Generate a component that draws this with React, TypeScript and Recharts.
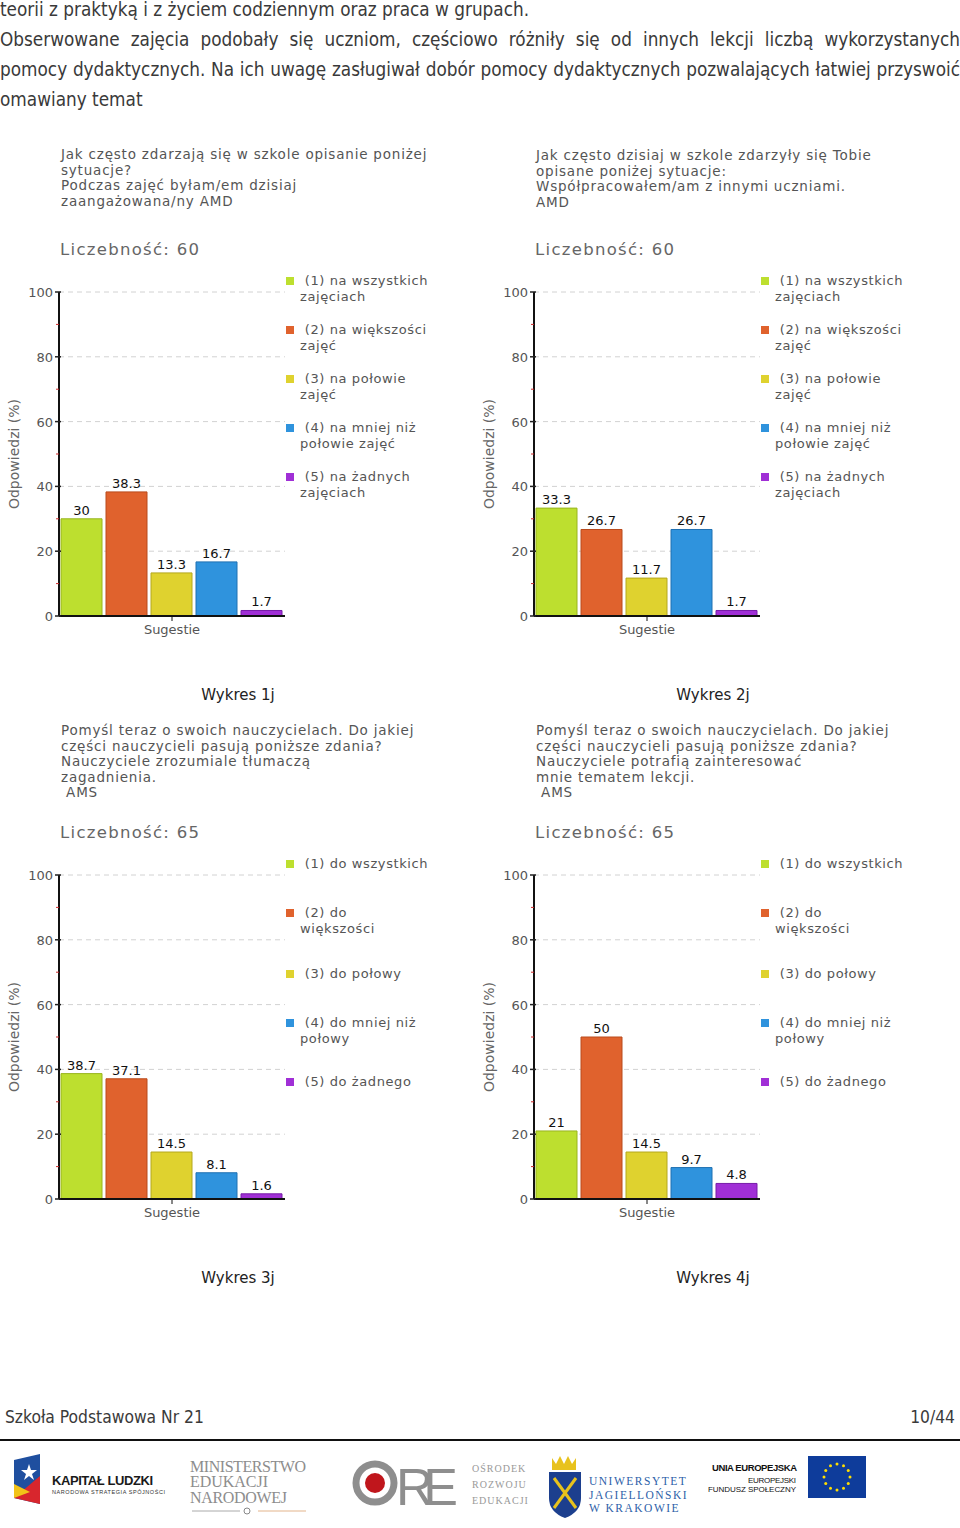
import React from 'react';
import { BarChart, Bar, XAxis, YAxis, CartesianGrid, Legend, LabelList } from 'recharts';

const CATEGORY = 'Sugestie';
const Y_TICKS = [0, 10, 20, 30, 40, 50, 60, 70, 80, 90, 100];
const GRID_VALUES = [20, 40, 60, 80, 100];

const values1j = [30, 38.3, 13.3, 16.7, 1.7];
const values2j = [33.3, 26.7, 11.7, 26.7, 1.7];
const values3j = [38.7, 37.1, 14.5, 8.1, 1.6];
const values4j = [21, 50, 14.5, 9.7, 4.8];

const labelsNa = [
  '(1) na wszystkich\nzajęciach',
  '(2) na większości\nzajęć',
  '(3) na połowie\nzajęć',
  '(4) na mniej niż\npołowie zajęć',
  '(5) na żadnych\nzajęciach',
];
const labelsDo = [
  '(1) do wszystkich',
  '(2) do\nwiększości',
  '(3) do połowy',
  '(4) do mniej niż\npołowy',
  '(5) do żadnego',
];

const title1j = [
  'Jak często zdarzają się w szkole opisanie poniżej',
  'sytuacje?',
  'Podczas zajęć byłam/em dzisiaj',
  'zaangażowana/ny AMD',
];
const title2j = [
  'Jak często dzisiaj w szkole zdarzyły się Tobie',
  'opisane poniżej sytuacje:',
  'Współpracowałem/am z innymi uczniami.',
  'AMD',
];
const title3j = [
  'Pomyśl teraz o swoich nauczycielach. Do jakiej',
  'części nauczycieli pasują poniższe zdania?',
  'Nauczyciele zrozumiale tłumaczą',
  'zagadnienia.',
  ' AMS',
];
const title4j = [
  'Pomyśl teraz o swoich nauczycielach. Do jakiej',
  'części nauczycieli pasują poniższe zdania?',
  'Nauczyciele potrafią zainteresować',
  'mnie tematem lekcji.',
  ' AMS',
];

const introLines = [
  'teorii z praktyką i z życiem codziennym oraz praca w grupach.',
  'Obserwowane zajęcia podobały się uczniom, częściowo różniły się od innych lekcji liczbą wykorzystanych',
  'pomocy dydaktycznych. Na ich uwagę zasługiwał dobór pomocy dydaktycznych pozwalających łatwiej przyswoić',
  'omawiany temat',
];

const FILLS = ['#bddf2f', '#e0622d', '#dfd22f', '#2f93dd', '#a02fd6'];
const STROKES = ['#98b41f', '#b94a1c', '#b4a81e', '#1f70b2', '#761ca8'];

const SANS = '"DejaVu Sans", Verdana, sans-serif';
const NARROW = '"DejaVu Sans Condensed", "DejaVu Sans", sans-serif';

function YTick(props: any) {
  const { x, y, payload } = props;
  const v = payload.value;
  if (v % 20 !== 0) {
    return <line x1={x - 3} x2={x} y1={y} y2={y} stroke="#cc2a2a" strokeWidth={1} />;
  }
  return (
    <g>
      <line x1={x - 4} x2={x + 2} y1={y} y2={y} stroke="#222" strokeWidth={1.5} />
      <text x={x - 6} y={y} dy={5} textAnchor="end" fontSize={13} fill="#555" fontFamily={SANS}>
        {v}
      </text>
    </g>
  );
}

const legendContent = (rows: number[]) => (props: any) => {
  const items = props.payload || [];
  return (
    <div>
      {items.map((entry: any, i: number) => (
        <div key={i} style={{ position: 'relative', height: rows[i], paddingLeft: 17 }}>
          <span
            style={{ position: 'absolute', left: 3, top: 4, width: 8, height: 8, background: FILLS[i] }}
          />
          {String(entry.value)
            .split('\n')
            .map((line: string, j: number) => (
              <div key={j} style={{ whiteSpace: 'pre' }}>
                {j === 0 ? ' ' + line : line}
              </div>
            ))}
        </div>
      ))}
    </div>
  );
};

interface PanelProps {
  left: number;
  top: number;
  titleTop: number;
  title: string[];
  count: number;
  values: number[];
  labels: string[];
  caption: string;
  legendRows: number[];
}

function Panel({ left, top, titleTop, title, count, values, labels, caption, legendRows }: PanelProps) {
  const row: Record<string, string | number> = { name: CATEGORY };
  values.forEach((v, i) => {
    row[`s${i}`] = v;
  });
  const data = [row];

  return (
    <>
      <div
        style={{
          position: 'absolute',
          left: left + 61,
          top: titleTop,
          fontFamily: SANS,
          fontSize: 13.5,
          letterSpacing: 0.8,
          lineHeight: '15.6px',
          color: '#555',
          whiteSpace: 'pre',
        }}
      >
        {title.map((t, i) => (
          <div key={i}>{t}</div>
        ))}
      </div>
      <div
        style={{
          position: 'absolute',
          left: left + 60,
          top: top - 30,
          fontFamily: SANS,
          fontSize: 16.5,
          letterSpacing: 1.3,
          lineHeight: '20px',
          color: '#666',
        }}
      >
        Liczebność: {count}
      </div>
      <div style={{ position: 'absolute', left, top }}>
        <BarChart
          width={450}
          height={380}
          data={data}
          margin={{ top: 22, right: 165, bottom: 4, left: 0 }}
          barCategoryGap={2}
          barGap={4}
        >
          <CartesianGrid
            vertical={false}
            stroke="#d2d2d2"
            strokeDasharray="5 4"
            horizontalValues={GRID_VALUES}
          />
          <XAxis
            dataKey="name"
            height={30}
            tickSize={5}
            tickMargin={4}
            axisLine={{ stroke: '#111', strokeWidth: 2 }}
            tickLine={{ stroke: '#111' }}
            tick={{ fill: '#555', fontSize: 13, fontFamily: SANS }}
          />
          <YAxis
            width={59}
            domain={[0, 100]}
            ticks={Y_TICKS}
            interval={0}
            tickSize={0}
            tickMargin={0}
            tickLine={false}
            axisLine={{ stroke: '#111', strokeWidth: 2 }}
            tick={<YTick />}
            label={{
              value: 'Odpowiedzi (%)',
              angle: -90,
              position: 'center',
              dx: -15,
              fill: '#666',
              fontSize: 14,
              fontFamily: SANS,
            }}
          />
          <Legend
            layout="vertical"
            align="center"
            verticalAlign="middle"
            wrapperStyle={{
              left: 283,
              top: 3,
              width: 175,
              fontFamily: SANS,
              fontSize: 13,
              letterSpacing: 0.6,
              lineHeight: '16px',
              color: '#555',
            }}
            content={legendContent(legendRows)}
          />
          {values.map((_, i) => (
            <Bar
              key={i}
              dataKey={`s${i}`}
              name={labels[i]}
              fill={FILLS[i]}
              stroke={STROKES[i]}
              strokeWidth={1}
              isAnimationActive={false}
            >
              <LabelList
                dataKey={`s${i}`}
                position="top"
                offset={4}
                fill="#111"
                fontSize={13}
                fontFamily={SANS}
              />
            </Bar>
          ))}
        </BarChart>
      </div>
      <div
        style={{
          position: 'absolute',
          left: left + 138,
          top: top + 415,
          width: 200,
          textAlign: 'center',
          fontFamily: SANS,
          fontSize: 15,
          lineHeight: '20px',
          color: '#222',
        }}
      >
        {caption}
      </div>
    </>
  );
}

function Logos() {
  const stars = Array.from({ length: 12 }, (_, i) => i);
  return (
    <svg width={960} height={80} style={{ position: 'absolute', left: 0, top: 1448 }}>
      {/* Kapitał Ludzki */}
      <polygon points="14,12 40,6 40,56 14,50" fill="#1f4f9f" />
      <polygon points="14,50 40,28 40,56" fill="#d8262d" />
      <polygon points="14,50 14,36 30,44" fill="#f2c318" />
      <polygon points="29,16 31,22 37,22 32,26 34,32 29,28 24,32 26,26 21,22 27,22" fill="#fff" />
      <text x={52} y={37} fontFamily="Liberation Sans, Arial" fontWeight="bold" fontSize={13} textLength={101} fill="#1a1a1a">
        KAPITAŁ LUDZKI
      </text>
      <text x={52} y={46} fontFamily="Liberation Sans, Arial" fontSize={5.5} textLength={113} fill="#333">
        NARODOWA STRATEGIA SPÓJNOŚCI
      </text>
      {/* MEN */}
      <g fontFamily="Liberation Serif, serif" fontSize={16} fill="#8d8d8d">
        <text x={190} y={24} textLength={116}>MINISTERSTWO</text>
        <text x={190} y={39} textLength={78}>EDUKACJI</text>
        <text x={190} y={55} textLength={97}>NARODOWEJ</text>
      </g>
      <line x1={192} x2={240} y1={63} y2={63} stroke="#aaa" strokeWidth={1} />
      <line x1={258} x2={306} y1={63} y2={63} stroke="#e3b48b" strokeWidth={1} />
      <circle cx={247} cy={63} r={3} fill="none" stroke="#888" strokeWidth={1} />
      {/* ORE */}
      <circle cx={375} cy={35} r={19} fill="none" stroke="#8e8e8e" strokeWidth={7} />
      <circle cx={375} cy={35} r={10} fill="#c0161c" />
      <text x={396} y={57} fontFamily="Liberation Sans, Arial" fontSize={52} fill="#8e8e8e" textLength={62}>
        RE
      </text>
      <g fontFamily="Liberation Serif, serif" fontSize={10} fill="#999" letterSpacing={1}>
        <text x={472} y={24}>OŚRODEK</text>
        <text x={472} y={40}>ROZWOJU</text>
        <text x={472} y={56}>EDUKACJI</text>
      </g>
      {/* UJ */}
      <polygon points="552,10 556,16 560,8 564,16 568,8 572,16 576,10 576,22 552,22" fill="#e8c21c" />
      <path d="M549,24 L581,24 L581,50 Q581,64 565,70 Q549,64 549,50 Z" fill="#1c3f8e" />
      <line x1={554} y1={30} x2={576} y2={60} stroke="#e8c21c" strokeWidth={3} />
      <line x1={576} y1={30} x2={554} y2={60} stroke="#e8c21c" strokeWidth={3} />
      <g fontFamily="Liberation Serif, serif" fontSize={11.5} fill="#2d60a8" letterSpacing={1.5}>
        <text x={589} y={37}>UNIWERSYTET</text>
        <text x={589} y={51}>JAGIELLOŃSKI</text>
        <text x={589} y={64}>W KRAKOWIE</text>
      </g>
      {/* EU */}
      <text x={712} y={23} fontFamily="Liberation Sans, Arial" fontWeight="bold" fontSize={9.5} textLength={85} fill="#111">
        UNIA EUROPEJSKA
      </text>
      <text x={748} y={35} fontFamily="Liberation Sans, Arial" fontSize={8} textLength={48} fill="#111">
        EUROPEJSKI
      </text>
      <text x={708} y={44} fontFamily="Liberation Sans, Arial" fontSize={8} textLength={88} fill="#111">
        FUNDUSZ SPOŁECZNY
      </text>
      <rect x={808} y={8} width={58} height={42} fill="#0e3c9b" />
      {stars.map((i) => (
        <circle
          key={i}
          cx={837 + 13 * Math.cos((i * Math.PI) / 6)}
          cy={29 + 13 * Math.sin((i * Math.PI) / 6)}
          r={1.5}
          fill="#ffde00"
        />
      ))}
    </svg>
  );
}

export default function App() {
  return (
    <div
      style={{
        position: 'relative',
        width: 960,
        height: 1528,
        overflow: 'hidden',
        background: '#fff',
      }}
    >
      <style>{'body{margin:0}'}</style>
      <div
        style={{
          position: 'absolute',
          left: 0,
          top: -5,
          width: 960,
          fontFamily: NARROW,
          fontStretch: 'condensed',
          fontSize: 18.8,
          lineHeight: '30px',
          color: '#3a3a3a',
        }}
      >
        {introLines.map((line, i) => (
          <div
            key={i}
            style={{
              textAlign: 'justify',
              textAlignLast: i === 1 || i === 2 ? 'justify' : 'left',
              whiteSpace: 'nowrap',
            }}
          >
            {line}
          </div>
        ))}
      </div>

      <Panel left={0} top={270} titleTop={147} title={title1j} count={60} values={values1j} labels={labelsNa} caption="Wykres 1j" legendRows={[49, 49, 49, 49, 40]} />
      <Panel left={475} top={270} titleTop={148} title={title2j} count={60} values={values2j} labels={labelsNa} caption="Wykres 2j" legendRows={[49, 49, 49, 49, 40]} />
      <Panel left={0} top={853} titleTop={723} title={title3j} count={65} values={values3j} labels={labelsDo} caption="Wykres 3j" legendRows={[49, 61, 49, 59, 30]} />
      <Panel left={475} top={853} titleTop={723} title={title4j} count={65} values={values4j} labels={labelsDo} caption="Wykres 4j" legendRows={[49, 61, 49, 59, 30]} />

      <div
        style={{
          position: 'absolute',
          left: 5,
          top: 1407,
          width: 950,
          display: 'flex',
          justifyContent: 'space-between',
          fontFamily: NARROW,
          fontStretch: 'condensed',
          fontSize: 17.3,
          lineHeight: '20px',
          color: '#3a3a3a',
        }}
      >
        <span>Szkoła Podstawowa Nr 21</span>
        <span>10/44</span>
      </div>
      <div style={{ position: 'absolute', left: 0, top: 1439, width: 960, height: 2, background: '#111' }} />
      <Logos />
    </div>
  );
}
